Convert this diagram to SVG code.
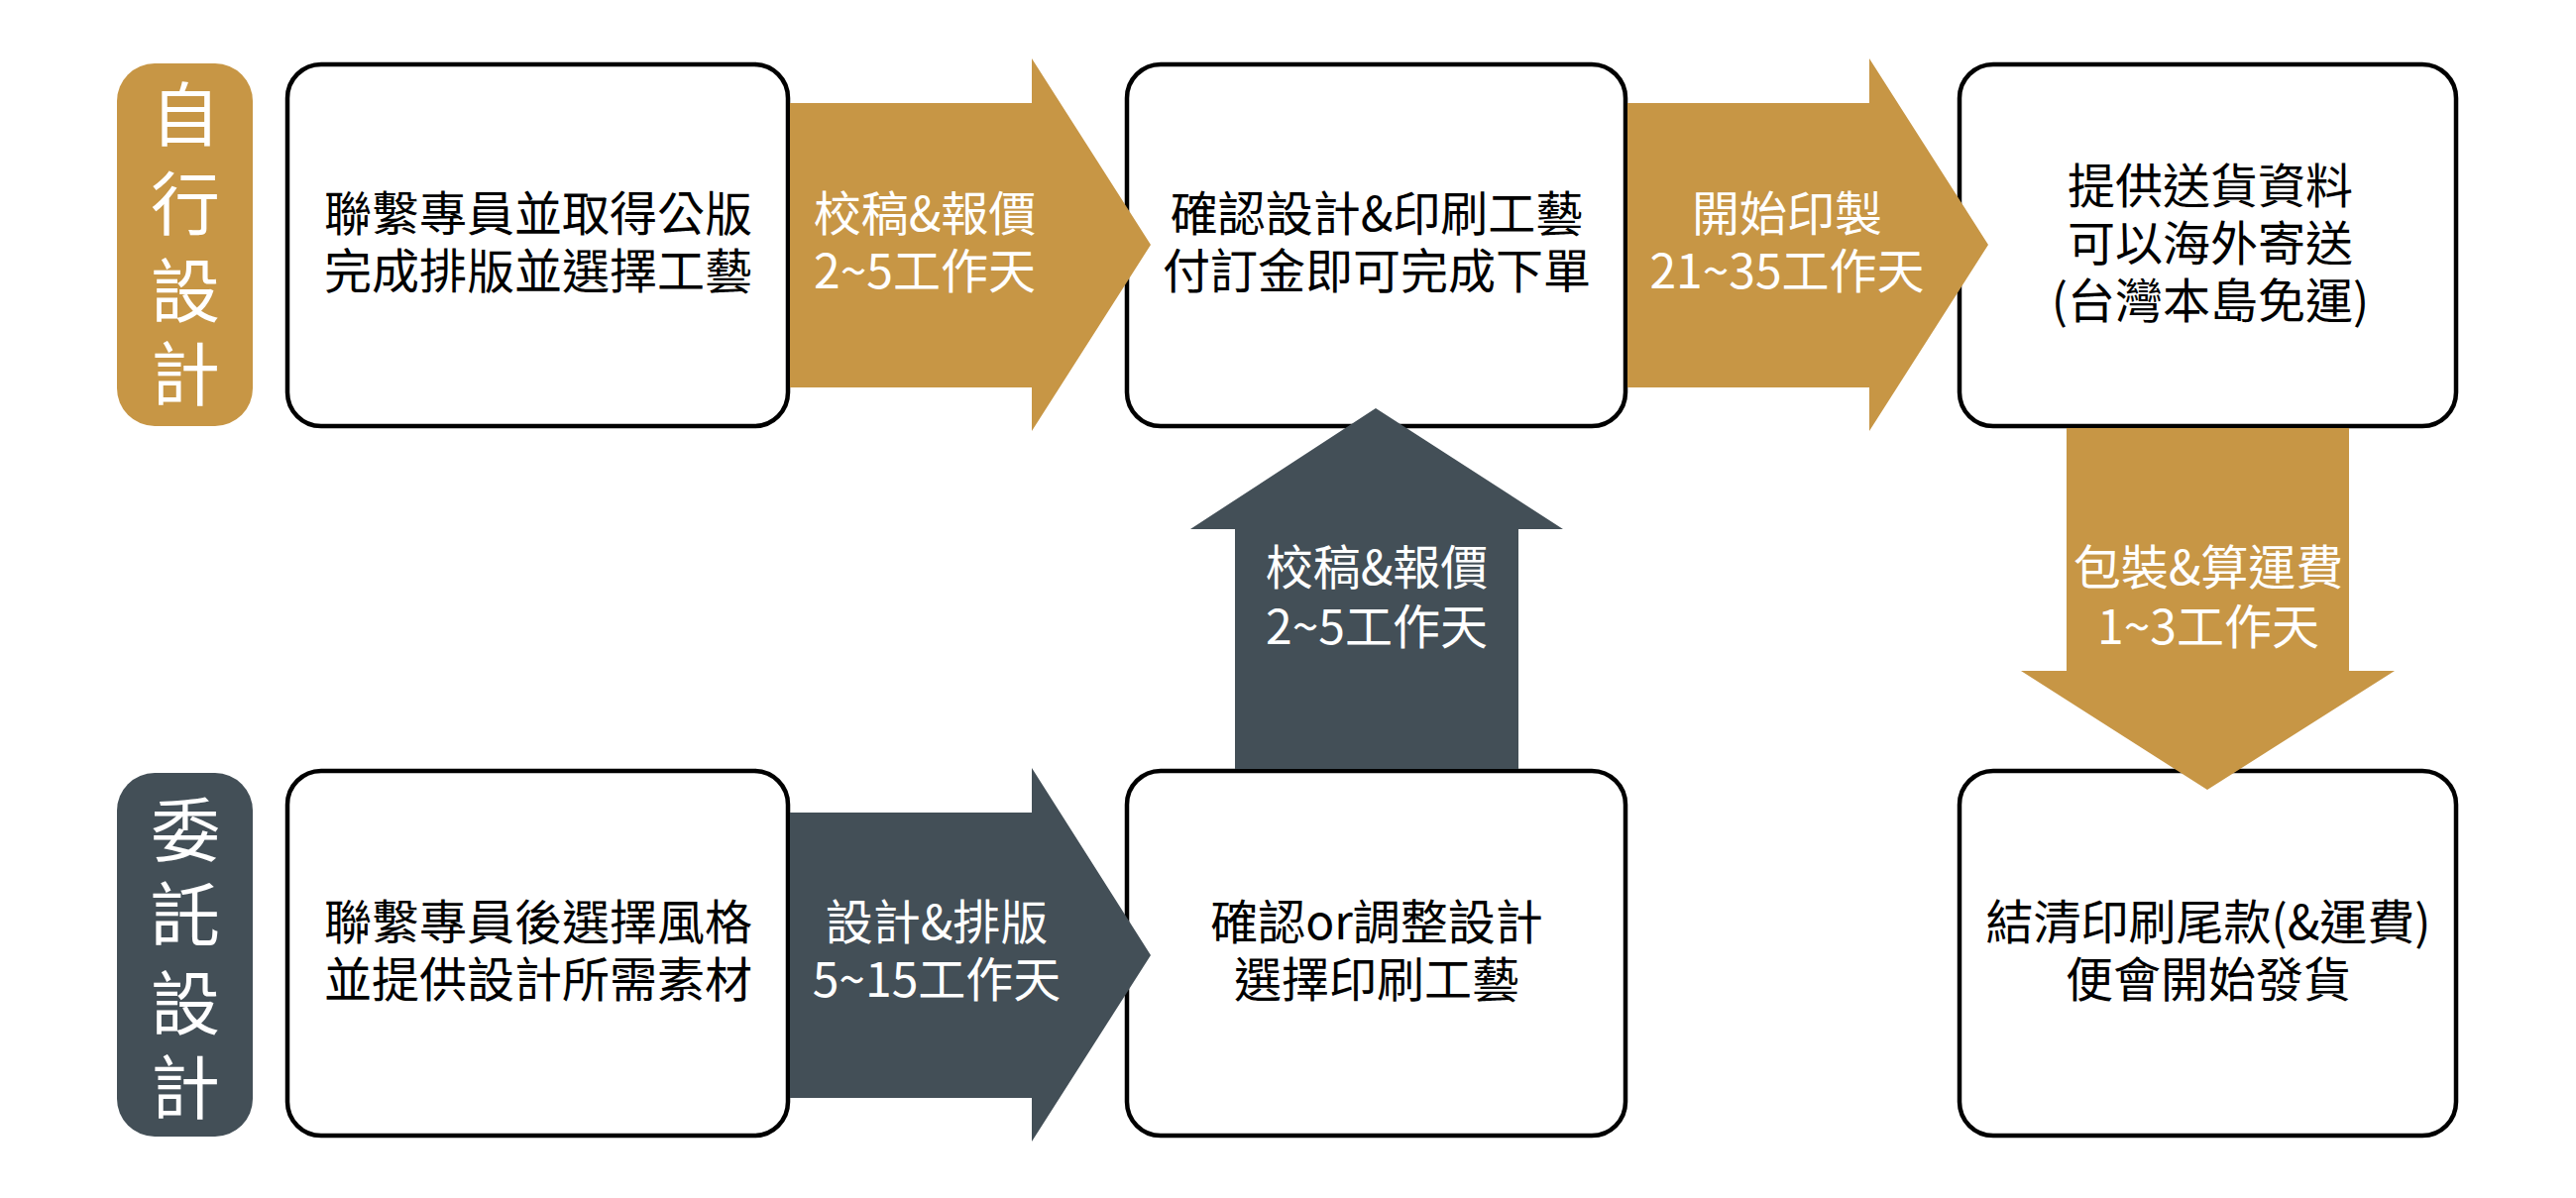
<svg xmlns="http://www.w3.org/2000/svg" width="2599" height="1209" viewBox="0 0 2599 1209">
<style>
.box{fill:#fff;stroke:#000;stroke-width:4.5}
.gold{fill:#C79645}
.dark{fill:#434F57}
text{font-family:"Noto Sans CJK TC","Noto Sans CJK SC",sans-serif;text-anchor:middle}
.t{font-size:48px;fill:#000}
.w{font-size:48px;fill:#fff}
.p{font-size:70px;fill:#fff}
</style>
<rect width="2599" height="1209" fill="#fff"/>
<g id="label-self">
<rect class="gold" x="118" y="64" width="137" height="366" rx="38"/>
<text class="p" x="187" y="142">自</text>
<text class="p" x="187" y="232">行</text>
<text class="p" x="187" y="320">設</text>
<text class="p" x="187" y="404">計</text>
</g>
<g id="label-commission">
<rect class="dark" x="118" y="780" width="137" height="367" rx="38"/>
<text class="p" x="187" y="864">委</text>
<text class="p" x="187" y="949">託</text>
<text class="p" x="187" y="1039">設</text>
<text class="p" x="187" y="1124">計</text>
</g>
<g id="box1"><rect class="box" x="290" y="65" width="505" height="365" rx="34"/>
<text class="t" x="543" y="233">聯繫專員並取得公版</text>
<text class="t" x="543" y="291">完成排版並選擇工藝</text></g>
<g id="box2"><rect class="box" x="1137" y="65" width="503" height="365" rx="34"/>
<text class="t" x="1389" y="233">確認設計&amp;印刷工藝</text>
<text class="t" x="1389" y="291">付訂金即可完成下單</text></g>
<g id="box3"><rect class="box" x="1977" y="65" width="501" height="365" rx="34"/>
<text class="t" x="2230" y="205">提供送貨資料</text>
<text class="t" x="2230" y="263">可以海外寄送</text>
<text class="t" x="2230" y="321">(台灣本島免運)</text></g>
<g id="box4"><rect class="box" x="290" y="778" width="505" height="368" rx="34"/>
<text class="t" x="543" y="948">聯繫專員後選擇風格</text>
<text class="t" x="543" y="1006">並提供設計所需素材</text></g>
<g id="box5"><rect class="box" x="1137" y="778" width="503" height="368" rx="34"/>
<text class="t" x="1389" y="948">確認or調整設計</text>
<text class="t" x="1389" y="1006">選擇印刷工藝</text></g>
<g id="box6"><rect class="box" x="1977" y="778" width="501" height="368" rx="34"/>
<text class="t" x="2228" y="948">結清印刷尾款(&amp;運費)</text>
<text class="t" x="2228" y="1006">便會開始發貨</text></g>
<g id="connectors">
<g id="arrow1"><polygon class="gold" points="797,104 1041,104 1041,59 1161,247 1041,435 1041,391 797,391"/>
<text class="w" x="933" y="233">校稿&amp;報價</text>
<text class="w" x="933" y="291">2~5工作天</text></g>
<g id="arrow2"><polygon class="gold" points="1642,104 1886,104 1886,59 2006,247 1886,435 1886,391 1642,391"/>
<text class="w" x="1803" y="233">開始印製</text>
<text class="w" x="1803" y="291">21~35工作天</text></g>
<g id="arrow3"><polygon class="dark" points="797,820 1041,820 1041,775 1161,964 1041,1152 1041,1108 797,1108"/>
<text class="w" x="945" y="948">設計&amp;排版</text>
<text class="w" x="945" y="1006">5~15工作天</text></g>
<g id="arrow-up"><polygon class="dark" points="1246,776 1246,534 1201,534 1388,412 1577,534 1532,534 1532,776"/>
<text class="w" x="1389" y="590">校稿&amp;報價</text>
<text class="w" x="1389" y="650">2~5工作天</text></g>
<g id="arrow-down"><polygon class="gold" points="2085,432 2370,432 2370,677 2416,677 2227,797 2039,677 2085,677"/>
<text class="w" x="2228" y="590">包裝&amp;算運費</text>
<text class="w" x="2228" y="650">1~3工作天</text></g>
</g>
</svg>
